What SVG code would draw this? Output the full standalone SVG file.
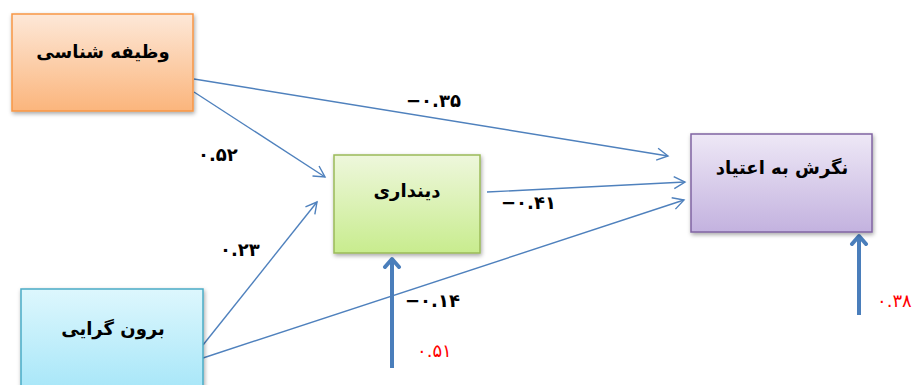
<svg xmlns="http://www.w3.org/2000/svg" width="921" height="385" viewBox="0 0 921 385">
<style>
.box{stroke-width:1.5}
.t{font-family:"DejaVu Sans","Noto Sans",sans-serif;font-weight:bold;font-size:18px;fill:#000;text-anchor:middle;direction:rtl}
.n{font-family:"DejaVu Sans","Noto Sans",sans-serif;font-weight:bold;font-size:18px;fill:#000;direction:ltr}
.r{fill:#ff0000;font-weight:normal}
.c{stroke:#4f81bd;stroke-width:1.4;fill:none;marker-end:url(#open)}
.k{stroke:#4a7ebb;stroke-width:4;fill:none;marker-end:url(#thick)}
</style>
<defs>
<linearGradient id="go" x1="0" y1="0" x2="0" y2="1"><stop offset="0" stop-color="#fde8d8"/><stop offset="1" stop-color="#fbb57c"/></linearGradient>
<linearGradient id="gg" x1="0" y1="0" x2="0" y2="1"><stop offset="0" stop-color="#eef7dc"/><stop offset="1" stop-color="#c8ec8e"/></linearGradient>
<linearGradient id="gp" x1="0" y1="0" x2="0" y2="1"><stop offset="0" stop-color="#eee8f6"/><stop offset="1" stop-color="#c3b2df"/></linearGradient>
<linearGradient id="gb" x1="0" y1="0" x2="0" y2="1"><stop offset="0" stop-color="#ddf7fd"/><stop offset="1" stop-color="#a3e5f8"/></linearGradient>
<filter id="sh" x="-10%" y="-10%" width="130%" height="130%"><feDropShadow dx="1" dy="2" stdDeviation="2" flood-color="#000" flood-opacity="0.35"/></filter>
<marker id="open" markerWidth="14" markerHeight="14" refX="12" refY="7" orient="auto" markerUnits="userSpaceOnUse"><path d="M1,1 L12,7 L1,13" fill="none" stroke="#4f81bd" stroke-width="1.4"/></marker>
<marker id="thick" markerWidth="20" markerHeight="20" refX="10" refY="10" orient="auto" markerUnits="userSpaceOnUse"><path d="M2,3 L10,10 L2,17" fill="none" stroke="#4a7ebb" stroke-width="4" stroke-linecap="round" stroke-linejoin="round"/></marker>
</defs>
<g id="connectors">
<line class="c" x1="194" y1="79" x2="668" y2="156"/>
<line class="c" x1="194" y1="92" x2="325" y2="177"/>
<line class="c" x1="203" y1="345" x2="317" y2="202"/>
<line class="c" x1="203" y1="358" x2="684" y2="200"/>
<line class="c" x1="487" y1="192" x2="685" y2="182"/>
<line class="k" x1="392" y1="368" x2="392" y2="259"/>
<line class="k" x1="859" y1="315" x2="859" y2="236"/>
</g>
<g id="labels">
<text class="n" x="406" y="107">−۰.۳۵</text>
<text class="n" x="198" y="161">۰.۵۲</text>
<text class="n" x="220" y="256">۰.۲۳</text>
<text class="n" x="501" y="209">−۰.۴۱</text>
<text class="n" x="405" y="307">−۰.۱۴</text>
<text class="n r" x="417" y="357">۰.۵۱</text>
<text class="n r" x="877" y="307">۰.۳۸</text>
</g>
<g id="n1">
<rect class="box" x="12" y="14" width="181" height="97" fill="url(#go)" stroke="#f79646" filter="url(#sh)"/>
<text class="t" x="103" y="58">وظیفه شناسی</text>
</g>
<g id="n2">
<rect class="box" x="334" y="155" width="146" height="98" fill="url(#gg)" stroke="#9bbb59" filter="url(#sh)"/>
<text class="t" x="407" y="197">دینداری</text>
</g>
<g id="n3">
<rect class="box" x="691" y="134" width="181" height="98" fill="url(#gp)" stroke="#8064a2" filter="url(#sh)"/>
<text class="t" x="782" y="174">نگرش به اعتیاد</text>
</g>
<g id="n4">
<rect class="box" x="21" y="289" width="182" height="110" fill="url(#gb)" stroke="#4bacc6" filter="url(#sh)"/>
<text class="t" x="113" y="335">برون گرایی</text>
</g>
</svg>
